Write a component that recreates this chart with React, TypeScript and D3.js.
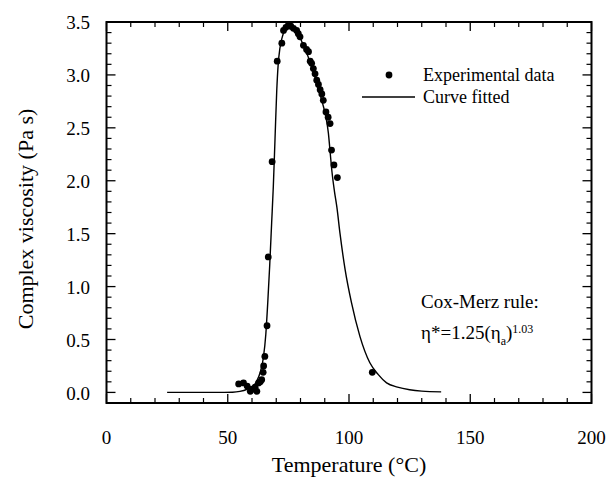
import React from 'react';
import * as d3 from 'd3';

const xTickValues = [0, 50, 100, 150, 200];
const yTickValues = [0, 0.5, 1.0, 1.5, 2.0, 2.5, 3.0, 3.5];

const expT = [54.5, 56.5, 58, 59.3, 60, 61.3, 62, 62.7, 63.4, 64, 64.6, 64.8, 65.3, 66.2, 66.7, 68.3, 70.4, 72.3, 73, 74, 75, 76, 77.1, 78.4, 79.1, 79.8, 81.2, 82.5, 83.3, 84, 84.6, 85.3, 86, 86.7, 87.4, 88.1, 88.8, 89.4, 90.5, 91.4, 92.2, 92.8, 93.8, 95.2, 109.6];
const expV = [0.08, 0.09, 0.06, 0.01, 0.03, 0.05, 0.01, 0.09, 0.10, 0.12, 0.19, 0.25, 0.34, 0.63, 1.28, 2.18, 3.13, 3.30, 3.42, 3.45, 3.47, 3.46, 3.44, 3.42, 3.39, 3.36, 3.28, 3.24, 3.22, 3.13, 3.11, 3.06, 3.01, 2.95, 2.91, 2.86, 2.82, 2.76, 2.65, 2.60, 2.54, 2.29, 2.15, 2.03, 0.19];

const fitT = [25, 45, 52, 55, 58, 60.5, 62, 63.4, 64.7, 65.7, 66.5, 67.3, 68.1, 68.8, 69.5, 70.2, 70.8, 71.5, 72.5, 73.7, 75, 76.5, 78, 79.5, 81, 83, 85, 87, 89, 90.5, 91.5, 92.3, 93, 94, 95, 96.3, 98.4, 101, 104.5, 108.6, 112, 115.5, 120, 125, 130, 138];
const fitV = [0, 0, 0.002, 0.01, 0.03, 0.06, 0.11, 0.19, 0.33, 0.55, 0.85, 1.2, 1.6, 1.95, 2.4, 2.85, 3.1, 3.25, 3.36, 3.44, 3.475, 3.47, 3.43, 3.37, 3.29, 3.18, 3.05, 2.9, 2.74, 2.6, 2.45, 2.25, 2.08, 1.9, 1.75, 1.5, 1.16, 0.85, 0.53, 0.28, 0.17, 0.09, 0.05, 0.025, 0.012, 0.005];

const FONT = '"Liberation Serif", "DejaVu Serif", serif';

export default function App() {
  const W = 609, H = 482;
  const x = d3.scaleLinear().domain([0, 200]).range([106.5, 591.5]);
  const y = d3.scaleLinear().domain([-0.1, 3.5]).range([403, 22]);
  const [x0, x1] = x.range();
  const [yb, yt] = y.range();

  const xMinor = d3.range(10, 200, 10).filter(v => v % 50 !== 0);
  const yMinor = d3.range(1, 35).map(v => v / 10).filter(v => Math.round(v * 10) % 5 !== 0);

  const line = d3.line<number>()
    .x((_, i) => x(fitT[i]))
    .y((_, i) => y(fitV[i]))
    .curve(d3.curveMonotoneX);

  return (
    <svg width={W} height={H} style={{ position: 'absolute', left: 0, top: 0, background: '#fff' }} fontFamily={FONT}>
      <rect x={0} y={0} width={W} height={H} fill="#fff" />
      {/* fitted curve */}
      <path d={line(fitT) || ''} fill="none" stroke="#000" strokeWidth={1.4} />
      {/* data points */}
      {expT.map((t, i) => (
        <circle key={i} cx={x(t)} cy={y(expV[i])} r={3.4} fill="#000" />
      ))}
      {/* frame */}
      <rect x={x0} y={yt} width={x1 - x0} height={yb - yt} fill="none" stroke="#000" strokeWidth={2} />
      {/* x ticks */}
      {xTickValues.map(v => (
        <g key={'xt' + v}>
          <line x1={x(v)} x2={x(v)} y1={yb} y2={yb - 9} stroke="#000" strokeWidth={1.3} />
          <line x1={x(v)} x2={x(v)} y1={yt} y2={yt + 9} stroke="#000" strokeWidth={1.3} />
          <text x={x(v)} y={444} textAnchor="middle" fontSize={19}>{v}</text>
        </g>
      ))}
      {xMinor.map(v => (
        <g key={'xm' + v}>
          <line x1={x(v)} x2={x(v)} y1={yb} y2={yb - 5} stroke="#000" strokeWidth={1.2} />
          <line x1={x(v)} x2={x(v)} y1={yt} y2={yt + 5} stroke="#000" strokeWidth={1.2} />
        </g>
      ))}
      {/* y ticks */}
      {yTickValues.map(v => (
        <g key={'yt' + v}>
          <line x1={x0} x2={x0 + 9} y1={y(v)} y2={y(v)} stroke="#000" strokeWidth={1.3} />
          <line x1={x1} x2={x1 - 9} y1={y(v)} y2={y(v)} stroke="#000" strokeWidth={1.3} />
          <text x={90} y={y(v)} dy="0.38em" textAnchor="end" fontSize={19}>{v.toFixed(1)}</text>
        </g>
      ))}
      {yMinor.map(v => (
        <g key={'ym' + v}>
          <line x1={x0} x2={x0 + 5} y1={y(v)} y2={y(v)} stroke="#000" strokeWidth={1.2} />
          <line x1={x1} x2={x1 - 5} y1={y(v)} y2={y(v)} stroke="#000" strokeWidth={1.2} />
        </g>
      ))}
      {/* axis titles */}
      <text x={349} y={472} textAnchor="middle" fontSize={22}>Temperature (°C)</text>
      <text transform={`translate(33, 219) rotate(-90)`} textAnchor="middle" fontSize={22}>Complex viscosity (Pa s)</text>
      {/* legend */}
      <circle cx={389} cy={75} r={3.4} fill="#000" />
      <text x={423} y={81} fontSize={18}>Experimental data</text>
      <line x1={362} x2={415} y1={97} y2={97} stroke="#000" strokeWidth={1.4} />
      <text x={423} y={103} fontSize={18}>Curve fitted</text>
      {/* annotation */}
      <text x={421} y={308} fontSize={19}>Cox-Merz rule:</text>
      <text x={421} y={339} fontSize={19}>
        η*=1.25(η
        <tspan fontSize={12} dy={6}>a</tspan>
        <tspan dy={-6}>)</tspan>
        <tspan fontSize={12} dy={-6}>1.03</tspan>
      </text>
    </svg>
  );
}
